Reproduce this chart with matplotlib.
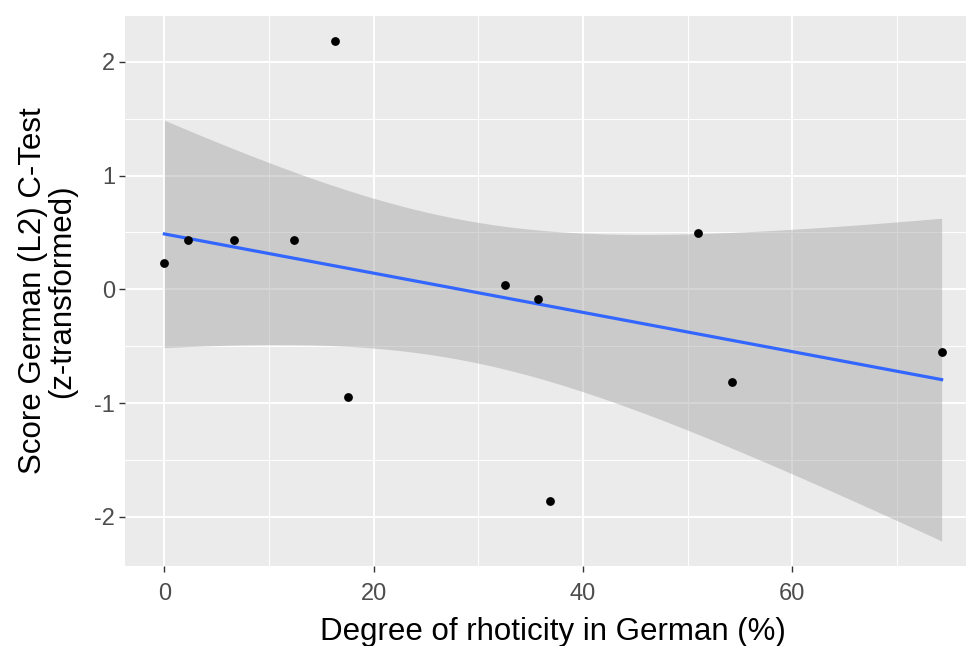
import numpy as np
import matplotlib
matplotlib.use("Agg")
import matplotlib.pyplot as plt
from matplotlib.ticker import MultipleLocator

# rhoticity (%) vs z-transformed C-test score
rhoticity = [0, 2.23, 6.67, 12.41, 16.27, 17.54, 32.52, 35.73, 36.85, 51.0, 54.21, 74.26]
score = [0.228, 0.433, 0.433, 0.433, 2.185, -0.944, 0.038, -0.088, -1.857, 0.491, -0.813, -0.553]

x_ticks = [0, 20, 40, 60]
y_ticks = [-2, -1, 0, 1, 2]

T_975_DF10 = 2.228139  # qt(0.975, 10)


def lm_band(x, y, n=80):
    x = np.asarray(x, float)
    y = np.asarray(y, float)
    slope, intercept = np.polyfit(x, y, 1)
    resid = y - (intercept + slope * x)
    s = np.sqrt(np.sum(resid ** 2) / (len(x) - 2))
    xs = np.linspace(x.min(), x.max(), n)
    fit = intercept + slope * xs
    se = s * np.sqrt(1 / len(x) + (xs - x.mean()) ** 2 / np.sum((x - x.mean()) ** 2))
    return xs, fit, fit - T_975_DF10 * se, fit + T_975_DF10 * se


def main():
    plt.rcParams['font.family'] = ['Liberation Sans', 'DejaVu Sans']
    plt.rcParams['axes.unicode_minus'] = False
    fig = plt.figure(figsize=(9.66, 6.46), dpi=100)
    # panel runs off the right edge a little
    ax = fig.add_axes([125.5 / 966, 80 / 646, 855 / 966, 550.3 / 646])
    ax.set_facecolor('#EBEBEB')
    for sp in ax.spines.values():
        sp.set_visible(False)

    xs, fit, lo, hi = lm_band(rhoticity, score)

    ax.fill_between(xs, lo, hi, color='#999999', alpha=0.4, linewidth=0, zorder=2)
    ax.plot(xs, fit, color='#3366FF', lw=2.3, zorder=3)
    ax.scatter(rhoticity, score, s=40, color='black', linewidths=0, zorder=4)

    xr = max(rhoticity) - min(rhoticity)
    ax.set_xlim(min(rhoticity) - 0.05 * xr, max(rhoticity) + 0.05 * xr)
    ymin = min(min(score), lo.min())
    ymax = max(max(score), hi.max())
    yr = ymax - ymin
    ax.set_ylim(ymin - 0.05 * yr, ymax + 0.05 * yr)

    ax.set_xticks(x_ticks)
    ax.set_yticks(y_ticks)
    ax.xaxis.set_minor_locator(MultipleLocator(10))
    ax.yaxis.set_minor_locator(MultipleLocator(0.5))
    ax.grid(which='major', color='white', lw=1.4, zorder=1)
    ax.grid(which='minor', color='white', lw=0.7, zorder=1)
    ax.set_axisbelow(True)
    ax.tick_params(which='minor', length=0)
    ax.tick_params(which='major', length=4, width=1, color='#333333',
                   labelcolor='#4D4D4D', labelsize=17)
    ax.tick_params(axis='x', pad=8)
    ax.tick_params(axis='y', pad=3.5)

    ax.set_xlabel('Degree of rhoticity in German (%)', fontsize=22.5, color='black', labelpad=9)
    ax.set_ylabel('Score German (L2) C-Test\n(z-transformed)', fontsize=22.5,
                  color='black', labelpad=12, linespacing=1.0)

    fig.savefig('out.png', dpi=100)


if __name__ == '__main__':
    main()
